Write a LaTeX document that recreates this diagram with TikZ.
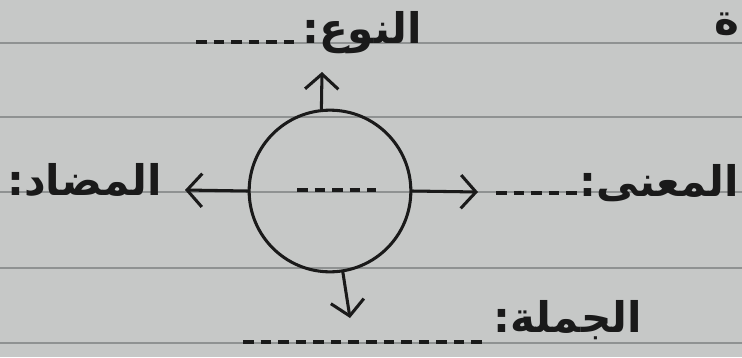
\documentclass[tikz,border=0pt]{standalone}
\usepackage{fontspec}
\newfontfamily\arabicfont[Script=Arabic]{DejaVu Sans}
\TeXXeTstate=1
\usetikzlibrary{arrows.meta, positioning}
\definecolor{nbPaper}{HTML}{C6C8C7}
\definecolor{nbRule}{HTML}{8F9292}
\definecolor{nbInk}{HTML}{1A1A1A}
\tikzset{
  ruleline/.style  = {nbRule, line width=1.4pt},
  inkline/.style   = {nbInk, line width=2.6pt, line cap=round},
  handarrow/.style = {inkline, -{Straight Barb[length=4.5mm, width=10mm, line width=2.6pt]}},
  blanks/.style    = {nbInk, line width=2.8pt, dash pattern=on 9pt off 6pt},
  lbl/.style       = {font=\arabicfont\bfseries\fontsize{36}{42}\selectfont, text=nbInk, inner sep=0pt},
  core/.style      = {circle, draw=nbInk, line width=2.6pt, minimum size=4.85cm},
}

\begin{document}
\begin{tikzpicture}[x=0.03cm, y=-0.03cm]
  \useasboundingbox (0,0) rectangle (742,357);
  \fill[nbPaper] (0,0) rectangle (742,357);
  % ruled lines of the notebook page
  \foreach \y in {43,117,192,268,343} {
    \draw[ruleline] (0,\y) -- (742,\y);
  }
  % the word in the middle
  \node[core] (word) at (330,191) {};
  \draw[blanks] (297,190) -- (376,190);
  % where the arrows end
  \coordinate (upTip)    at (322,72);
  \coordinate (leftTip)  at (185,190);
  \coordinate (rightTip) at (478,192);
  \coordinate (downTip)  at (350,318);
  \draw[handarrow] (word.96)  -- (upTip);
  \draw[handarrow] (word.west) -- (leftTip);
  \draw[handarrow] (word.east) -- (rightTip);
  \draw[handarrow] (word.-81) -- (downTip);
  % labels with their blanks
  \node[lbl, anchor=east] (kind)    at (422,33)  {\beginR النوع:\endR};
  \draw[blanks] (196,42) -- (298,42);
  \node[lbl, anchor=east] (meaning) at (739,183) {\beginR المعنى:\endR};
  \draw[blanks] (496,193) -- (578,193);
  \node[lbl, anchor=east] (opposite) at (162,180) {\beginR المضاد:\endR};
  \node[lbl, anchor=east] (sentence) at (642,320) {\beginR الجملة:\endR};
  \draw[blanks] (243,342) -- (488,342);
  \node[lbl, anchor=east] (edge) at (740,24) {\beginR ة\endR};
\end{tikzpicture}
\end{document}
